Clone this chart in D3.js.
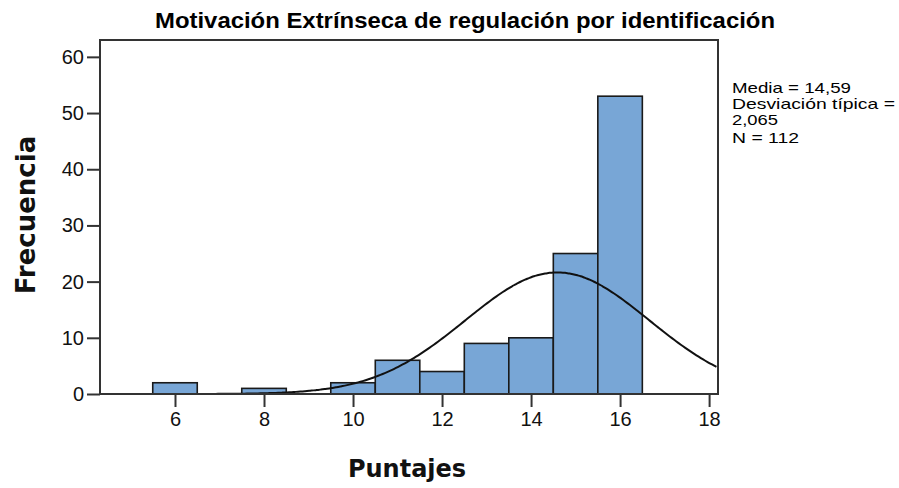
<!DOCTYPE html>
<html>
<head>
<meta charset="utf-8">
<script src="https://cdn.jsdelivr.net/npm/d3@7/dist/d3.min.js"></script>
<style>
  html, body { margin: 0; padding: 0; background: #fff; }
  svg { display: block; }
</style>
</head>
<body>
<svg id="chart" width="899" height="488"></svg>
<script>
// Histogram bins (centre of each 1-point bin) and their frequencies
const binCenters = [6, 7, 8, 9, 10, 11, 12, 13, 14, 15, 16];
const frequencies = [2, 0, 1, 0, 2, 6, 4, 9, 10, 25, 53];
const xTicks = [6, 8, 10, 12, 14, 16, 18];
const yTicks = [0, 10, 20, 30, 40, 50, 60];

// Summary statistics shown beside the plot
const mean = 14.59;
const stdDev = 2.065;
const nCases = 112;
const statLines = ["Media = 14,59", "Desviación típica =", "2,065", "N = 112"];

const title = "Motivación Extrínseca de regulación por identificación";
const xTitle = "Puntajes";
const yTitle = "Frecuencia";

const svg = d3.select("#chart");
const plot = { left: 100, top: 40, right: 718, bottom: 394 };
const binWidth = 1;

const x = d3.scaleLinear().domain([4.315, 18.2]).range([plot.left, plot.right]);
const y = d3.scaleLinear().domain([0, 63]).range([plot.bottom, plot.top]);

svg.append("rect").attr("width", 899).attr("height", 488).attr("fill", "#fff");

svg.append("defs").append("clipPath").attr("id", "plotClip")
  .append("rect")
  .attr("x", plot.left).attr("y", plot.top)
  .attr("width", plot.right - plot.left).attr("height", plot.bottom - plot.top);

// Bars
svg.append("g").selectAll("rect")
  .data(binCenters.map((c, i) => ({ c, f: frequencies[i] })).filter(d => d.f > 0))
  .join("rect")
  .attr("x", d => x(d.c - binWidth / 2))
  .attr("y", d => y(d.f))
  .attr("width", d => x(d.c + binWidth / 2) - x(d.c - binWidth / 2))
  .attr("height", d => y(0) - y(d.f))
  .attr("fill", "#78a6d6")
  .attr("stroke", "#1a1a1a")
  .attr("stroke-width", 1.6);

// Fitted normal curve scaled to counts (N * bin width * density)
const curveX = d3.range(x.domain()[0], x.domain()[1] + 0.01, 0.05);
const normal = v => nCases * binWidth / (stdDev * Math.sqrt(2 * Math.PI)) *
  Math.exp(-((v - mean) ** 2) / (2 * stdDev * stdDev));
svg.append("path")
  .datum(curveX)
  .attr("clip-path", "url(#plotClip)")
  .attr("fill", "none")
  .attr("stroke", "#111")
  .attr("stroke-width", 2)
  .attr("d", d3.line().x(d => x(d)).y(d => y(normal(d))).curve(d3.curveBasis));

// Plot frame
svg.append("rect")
  .attr("x", plot.left).attr("y", plot.top)
  .attr("width", plot.right - plot.left).attr("height", plot.bottom - plot.top)
  .attr("fill", "none")
  .attr("stroke", "#333")
  .attr("stroke-width", 2);

// Axes
const fontFamily = "'Liberation Sans', Arial, sans-serif";
const yAxis = svg.append("g")
  .attr("transform", `translate(${plot.left},0)`)
  .call(d3.axisLeft(y).tickValues(yTicks).tickSize(13).tickPadding(3).tickFormat(d3.format("d")));
const xAxis = svg.append("g")
  .attr("transform", `translate(0,${plot.bottom})`)
  .call(d3.axisBottom(x).tickValues(xTicks).tickSize(13).tickPadding(5).tickFormat(d3.format("d")));
[yAxis, xAxis].forEach(a => {
  a.select(".domain").remove();
  a.selectAll(".tick line").attr("stroke", "#333").attr("stroke-width", 2);
  a.selectAll(".tick text")
    .attr("fill", "#111")
    .style("font-family", fontFamily)
    .style("font-size", "20px");
});

// Titles
svg.append("text")
  .attr("x", 155).attr("y", 28)
  .style("font-family", fontFamily)
  .style("font-weight", "bold")
  .style("font-size", "22px")
  .attr("textLength", 620)
  .attr("lengthAdjust", "spacingAndGlyphs")
  .attr("fill", "#000")
  .text(title);

svg.append("text")
  .attr("x", 407).attr("y", 477)
  .attr("text-anchor", "middle")
  .style("font-family", "'DejaVu Sans', sans-serif")
  .style("font-weight", "bold")
  .style("font-size", "24px")
  .attr("fill", "#111")
  .text(xTitle);

svg.append("text")
  .attr("transform", "translate(35,215) rotate(-90)")
  .attr("text-anchor", "middle")
  .style("font-family", "'DejaVu Sans', sans-serif")
  .style("font-weight", "bold")
  .style("font-size", "26px")
  .attr("fill", "#111")
  .text(yTitle);

// Statistics block
const statBaselines = [93, 109, 125, 143];
const statWidths = [119, 163, 46, 67];
svg.append("g").selectAll("text")
  .data(statLines)
  .join("text")
  .attr("x", 732)
  .attr("y", (d, i) => statBaselines[i])
  .attr("textLength", (d, i) => statWidths[i])
  .attr("lengthAdjust", "spacingAndGlyphs")
  .style("font-family", fontFamily)
  .style("font-size", "15px")
  .attr("fill", "#000")
  .text(d => d);
</script>
</body>
</html>
